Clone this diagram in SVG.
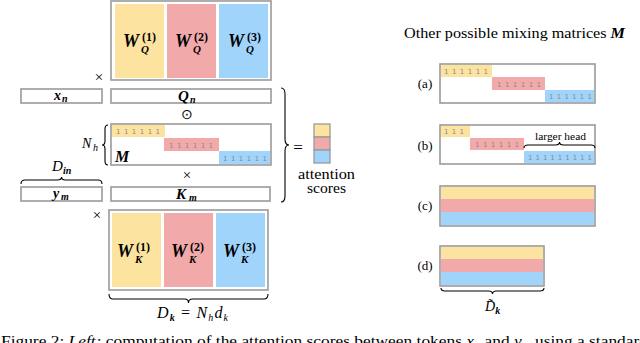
<svg xmlns="http://www.w3.org/2000/svg" width="640" height="343" viewBox="0 0 640 343">
<style>
.box{fill:#fff;stroke:#9a9a9a;stroke-width:1.6}
.ye{fill:#fce3a0}.pk{fill:#f2a9a9}.bl{fill:#a0d4fb}
.band{stroke:none}
.m{font-family:"Liberation Serif",serif;font-weight:bold;font-style:italic;fill:#000}
.i{font-family:"Liberation Serif",serif;font-style:italic;fill:#000}
.r{font-family:"Liberation Serif",serif;fill:#000}
.one{font-family:"DejaVu Sans",sans-serif;font-size:7px;fill:#8a8a8a}
.br{fill:none;stroke:#000;stroke-width:1.1}
</style>
<g id="WQ">
<rect class="box" x="111" y="1" width="160" height="79"/>
<rect class="ye band" x="115" y="4" width="49" height="74"/>
<rect class="pk band" x="167" y="4" width="49" height="74"/>
<rect class="bl band" x="219" y="4" width="49" height="74"/>
<text class="m" x="123" y="47" font-size="18">W</text><text class="m" x="141" y="53" font-size="11">Q</text><text class="r" x="142" y="41" font-size="12" font-weight="bold">(1)</text>
<text class="m" x="175" y="47" font-size="18">W</text><text class="m" x="193" y="53" font-size="11">Q</text><text class="r" x="194" y="41" font-size="12" font-weight="bold">(2)</text>
<text class="m" x="228" y="47" font-size="18">W</text><text class="m" x="246" y="53" font-size="11">Q</text><text class="r" x="247" y="41" font-size="12" font-weight="bold">(3)</text>
</g>
<g id="ops">
<text class="r" x="99" y="82" font-size="15" text-anchor="middle">×</text>
<text class="r" x="187" y="119" font-size="14" text-anchor="middle">⊙</text>
<text class="r" x="187" y="180" font-size="15" text-anchor="middle">×</text>
<text class="r" x="97" y="220" font-size="15" text-anchor="middle">×</text>
<text class="r" x="298" y="153" font-size="17" text-anchor="middle">=</text>
</g>
<g id="xn">
<rect class="box" x="21" y="89" width="81" height="14"/>
<text class="m" x="54" y="100" font-size="14">x</text><text class="m" x="62" y="102" font-size="10">n</text>
</g>
<g id="Qn">
<rect class="box" x="111" y="89" width="160" height="14"/>
<text class="m" x="178" y="101" font-size="15">Q</text><text class="m" x="190" y="103" font-size="10">n</text>
</g>
<g id="M">
<rect class="box" x="111" y="124" width="160" height="41"/>
<rect class="ye band" x="112" y="125" width="53" height="12"/>
<rect class="pk band" x="164" y="138" width="55" height="13"/>
<rect class="bl band" x="219" y="151" width="51" height="13"/>
<text class="one" x="116" y="134" textLength="44">1 1 1 1 1 1</text>
<text class="one" x="169" y="148" textLength="44">1 1 1 1 1 1</text>
<text class="one" x="223" y="161" textLength="44">1 1 1 1 1 1</text>
<text class="m" x="115" y="162" font-size="16">M</text>
<text class="i" x="82" y="148" font-size="14">N</text><text class="i" x="93" y="151" font-size="10">h</text>
</g>
<g id="ym">
<rect class="box" x="21" y="187" width="81" height="14"/>
<text class="m" x="53" y="198" font-size="14">y</text><text class="m" x="61" y="200" font-size="10">m</text>
<text class="i" x="52" y="171" font-size="15">D</text><text class="m" x="63" y="174" font-size="10">in</text>
</g>
<g id="Km">
<rect class="box" x="111" y="187" width="159" height="14"/>
<text class="m" x="176" y="199" font-size="15">K</text><text class="m" x="189" y="201" font-size="10">m</text>
</g>
<g id="WK">
<rect class="box" x="109" y="210" width="159" height="80"/>
<rect class="ye band" x="112" y="213" width="49" height="74"/>
<rect class="pk band" x="164" y="213" width="49" height="74"/>
<rect class="bl band" x="216" y="213" width="49" height="74"/>
<text class="m" x="117" y="257" font-size="18">W</text><text class="m" x="135" y="263" font-size="11">K</text><text class="r" x="136" y="251" font-size="12" font-weight="bold">(1)</text>
<text class="m" x="171" y="257" font-size="18">W</text><text class="m" x="189" y="263" font-size="11">K</text><text class="r" x="190" y="251" font-size="12" font-weight="bold">(2)</text>
<text class="m" x="223" y="257" font-size="18">W</text><text class="m" x="241" y="263" font-size="11">K</text><text class="r" x="242" y="251" font-size="12" font-weight="bold">(3)</text>
<text class="i" x="157" y="318" font-size="16" textLength="71">D<tspan font-size="10" dy="3" font-weight="bold">k</tspan><tspan dy="-3" font-style="normal"> = </tspan>N<tspan font-size="10" dy="3">h</tspan><tspan dy="-3">d</tspan><tspan font-size="10" dy="3">k</tspan></text>
</g>
<g id="scores">
<rect class="ye" x="314" y="124" width="16" height="13" stroke="#9a9a9a" stroke-width="1.3"/>
<rect class="pk" x="314" y="137" width="16" height="13" stroke="#9a9a9a" stroke-width="1.3"/>
<rect class="bl" x="314" y="150" width="16" height="13" stroke="#9a9a9a" stroke-width="1.3"/>
<text class="r" x="298" y="179" font-size="14" textLength="57" lengthAdjust="spacingAndGlyphs">attention</text>
<text class="r" x="307" y="193" font-size="14" textLength="39" lengthAdjust="spacingAndGlyphs">scores</text>
</g>
<g id="title">
<text class="r" x="404" y="38" font-size="15" textLength="221" lengthAdjust="spacingAndGlyphs">Other possible mixing matrices <tspan class="m">M</tspan></text>
</g>
<g id="ma">
<text class="r" x="425" y="88" font-size="13" text-anchor="middle">(a)</text>
<rect class="box" x="440" y="64" width="155" height="39"/>
<rect class="ye band" x="441" y="65" width="51" height="12"/>
<rect class="pk band" x="492" y="77" width="53" height="13"/>
<rect class="bl band" x="545" y="90" width="49" height="12"/>
<text class="one" x="444" y="74" textLength="44">1 1 1 1 1 1</text>
<text class="one" x="497" y="87" textLength="44">1 1 1 1 1 1</text>
<text class="one" x="549" y="99" textLength="43">1 1 1 1 1 1</text>
</g>
<g id="mb">
<text class="r" x="425" y="150" font-size="13" text-anchor="middle">(b)</text>
<rect class="box" x="440" y="125" width="155" height="39"/>
<rect class="ye band" x="441" y="126" width="29" height="11"/>
<rect class="pk band" x="470" y="138" width="54" height="12"/>
<rect class="bl band" x="524" y="151" width="70" height="12"/>
<text class="one" x="444" y="134" textLength="20">1 1 1</text>
<text class="one" x="475" y="147" textLength="44">1 1 1 1 1 1</text>
<text class="one" x="528" y="160" textLength="64">1 1 1 1 1 1 1 1 1</text>
<text class="r" x="535" y="140" font-size="10" textLength="51" lengthAdjust="spacingAndGlyphs">larger head</text>
</g>
<g id="mc">
<text class="r" x="425" y="210" font-size="13" text-anchor="middle">(c)</text>
<rect class="box" x="440" y="186" width="155" height="40"/>
<rect class="ye band" x="441" y="187" width="153" height="12"/>
<rect class="pk band" x="441" y="199" width="153" height="13"/>
<rect class="bl band" x="441" y="212" width="153" height="13"/>
</g>
<g id="md">
<text class="r" x="425" y="270" font-size="13" text-anchor="middle">(d)</text>
<rect class="box" x="440" y="246" width="104" height="40"/>
<rect class="ye band" x="441" y="247" width="102" height="12"/>
<rect class="pk band" x="441" y="259" width="102" height="13"/>
<rect class="bl band" x="441" y="272" width="102" height="13"/>
<text class="i" x="485" y="311" font-size="14">D̃<tspan class="m" font-size="10" dy="3">k</tspan></text>
</g>
<g id="braces">
<path class="br" d="M21 184 Q21 180 25 180 L57.5 180 Q61.5 180 61.5 177 Q61.5 180 65.5 180 L98 180 Q102 180 102 184"/>
<path class="br" d="M109 294 Q109 299 113 299 L184.5 299 Q188.5 299 188.5 303 Q188.5 299 192.5 299 L264 299 Q268 299 268 294"/>
<path class="br" d="M441 288 Q441 291 445 291 L488.5 291 Q492.5 291 492.5 294 Q492.5 291 496.5 291 L540 291 Q544 291 544 288"/>
<path class="br" d="M524 148 Q524 145 528 145 L555.5 145 Q559.5 145 559.5 142 Q559.5 145 563.5 145 L591 145 Q595 145 595 148"/>
<path class="br" d="M108 125 Q105 125 105 129 L105 141 Q105 145 102 145 Q105 145 105 149 L105 161 Q105 165 108 165"/>
<path class="br" d="M281 88 Q285 88 285 94 L285 139 Q285 145 289 145 Q285 145 285 151 L285 196 Q285 202 281 202"/>
</g>
<g id="caption">
<text class="r" x="1" y="346" font-size="14" textLength="647" lengthAdjust="spacingAndGlyphs">Figure 2: <tspan font-style="italic">Left:</tspan> computation of the attention scores between tokens <tspan font-style="italic">x<tspan font-size="10" dy="2">n</tspan></tspan><tspan dy="-2"> and </tspan><tspan font-style="italic">y<tspan font-size="10" dy="2">m</tspan></tspan><tspan dy="-2"> using a standard</tspan></text>
</g>
</svg>
